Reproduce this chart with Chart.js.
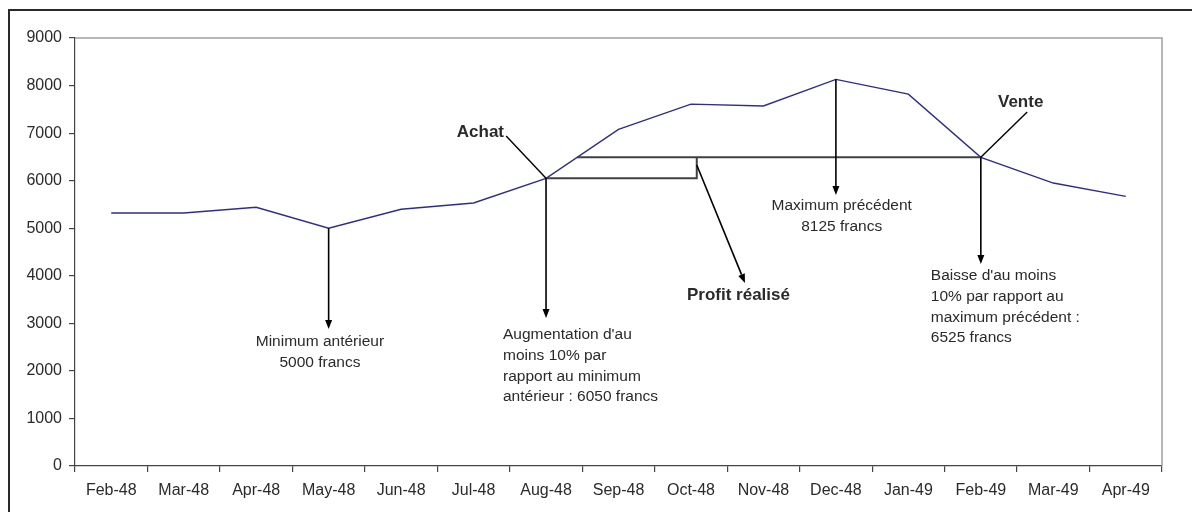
<!DOCTYPE html>
<html>
<head>
<meta charset="utf-8">
<script src="https://cdn.jsdelivr.net/npm/chart.js@4"></script>
<style>
html,body{margin:0;padding:0;background:#fff;}
#wrap{width:1192px;height:512px;position:relative;}
</style>
</head>
<body>
<div id="wrap"><canvas id="c" width="1192" height="512"></canvas></div>
<script>
// ---- Data ----
const categories = ['Feb-48','Mar-48','Apr-48','May-48','Jun-48','Jul-48','Aug-48','Sep-48','Oct-48','Nov-48','Dec-48','Jan-49','Feb-49','Mar-49','Apr-49'];
const prices = [5320, 5320, 5440, 5000, 5400, 5530, 6050, 7080, 7610, 7570, 8130, 7820, 6490, 5950, 5670];
const yTicks = [0, 1000, 2000, 3000, 4000, 5000, 6000, 7000, 8000, 9000];

// reference indices
const minIdx = 3, buyIdx = 6, maxIdx = 10, sellIdx = 12;
const profitBoxEndIdx = 8.08;   // right edge of the small profit box (category units)

// arrow segments: [fromIdx, fromValue, toIdx, toValue]
const downArrows = [
  [minIdx, prices[minIdx], minIdx, 2880],
  [buyIdx, prices[buyIdx], buyIdx, 3110],
  [maxIdx, prices[maxIdx], maxIdx, 5700],
  [sellIdx, prices[sellIdx], sellIdx, 4250]
];
const profitArrow = [profitBoxEndIdx, 6330, 8.745, 3850];
const leaderLines = [
  [5.45, 6940, buyIdx, prices[buyIdx]],
  [12.64, 7445, sellIdx, prices[sellIdx]]
];

// text labels: [idx, value, align, bold, lines]
const labels = [
  [5.42, 7023, 'right', true, ['Achat']],
  [12.55, 7653, 'center', true, ['Vente']],
  [7.945, 3595, 'left', true, ['Profit réalisé']],
  [2.88, 2607, 'center', false, ['Minimum antérieur', '5000 francs']],
  [5.406, 2754, 'left', false, ["Augmentation d'au", 'moins 10% par', 'rapport au minimum', 'antérieur : 6050 francs']],
  [10.08, 5467, 'center', false, ['Maximum précédent', '8125 francs']],
  [11.31, 3995, 'left', false, ["Baisse d'au moins", '10% par rapport au', 'maximum précédent :', '6525 francs']]
];

const FONT = '"Liberation Sans", Arial, sans-serif';
const TXT = '#2a2a2a';

const annot = {
  id: 'annot',
  beforeDraw(chart) {
    const ctx = chart.ctx;
    ctx.save();
    ctx.fillStyle = '#fff';
    ctx.fillRect(0, 0, chart.width, chart.height);
    ctx.strokeStyle = '#2a2a2a';
    ctx.lineWidth = 2;
    ctx.strokeRect(9, 10, 1400, 900);
    ctx.restore();
  },
  afterDatasetsDraw(chart) {
    const ctx = chart.ctx;
    const xs = chart.scales.x, ys = chart.scales.y;
    const ca = chart.chartArea;
    const px = i => {
      const f = Math.floor(i), r = i - f;
      const a = xs.getPixelForValue(f), b = xs.getPixelForValue(f + 1);
      return a + (b - a) * r;
    };
    const py = v => ys.getPixelForValue(v);
    ctx.save();
    // plot frame top & right
    ctx.strokeStyle = '#a0a0a0';
    ctx.lineWidth = 1.5;
    ctx.beginPath();
    ctx.moveTo(ca.left, ca.top);
    ctx.lineTo(ca.right, ca.top);
    ctx.lineTo(ca.right, ca.bottom);
    ctx.stroke();

    // profit box
    const buyV = prices[buyIdx], sellV = prices[sellIdx];
    const a = prices[buyIdx], b = prices[buyIdx + 1];
    const cross = buyIdx + (sellV - a) / (b - a);
    ctx.strokeStyle = '#404040';
    ctx.lineWidth = 2;
    ctx.beginPath();
    ctx.moveTo(px(buyIdx), py(buyV));
    ctx.lineTo(px(profitBoxEndIdx), py(buyV));
    ctx.lineTo(px(profitBoxEndIdx), py(sellV));
    ctx.moveTo(px(cross), py(sellV));
    ctx.lineTo(px(sellIdx), py(sellV));
    ctx.stroke();

    // arrows
    const arrow = (x1, y1, x2, y2) => {
      ctx.strokeStyle = '#000';
      ctx.fillStyle = '#000';
      ctx.lineWidth = 1.6;
      const ang = Math.atan2(y2 - y1, x2 - x1);
      const L = 9, W = 3.5;
      const bx = x2 - L * Math.cos(ang), by = y2 - L * Math.sin(ang);
      ctx.beginPath();
      ctx.moveTo(x1, y1);
      ctx.lineTo(bx, by);
      ctx.stroke();
      ctx.beginPath();
      ctx.moveTo(x2, y2);
      ctx.lineTo(bx + W * Math.sin(ang), by - W * Math.cos(ang));
      ctx.lineTo(bx - W * Math.sin(ang), by + W * Math.cos(ang));
      ctx.closePath();
      ctx.fill();
    };
    downArrows.forEach(s => arrow(px(s[0]), py(s[1]), px(s[2]), py(s[3])));
    arrow(px(profitArrow[0]), py(profitArrow[1]), px(profitArrow[2]), py(profitArrow[3]));

    // leader lines
    ctx.strokeStyle = '#000';
    ctx.lineWidth = 1.4;
    leaderLines.forEach(s => {
      ctx.beginPath();
      ctx.moveTo(px(s[0]), py(s[1]));
      ctx.lineTo(px(s[2]), py(s[3]));
      ctx.stroke();
    });

    // text
    ctx.fillStyle = TXT;
    ctx.textBaseline = 'middle';
    labels.forEach(l => {
      const [i, v, align, bold, lines] = l;
      ctx.font = (bold ? 'bold 17px ' : '15.5px ') + FONT;
      ctx.textAlign = align;
      const x = px(i);
      let y = py(v);
      lines.forEach(t => { ctx.fillText(t, x, y); y += 20.7; });
    });
    ctx.restore();
  }
};

new Chart(document.getElementById('c'), {
  type: 'line',
  data: {
    labels: categories,
    datasets: [{
      data: prices,
      borderColor: '#2e2e8a',
      borderWidth: 1.4,
      pointRadius: 0,
      tension: 0,
      fill: false
    }]
  },
  options: {
    responsive: false,
    animation: false,
    devicePixelRatio: 1,
    layout: { padding: { top: 38, right: 30, left: 0, bottom: 0 } },
    plugins: { legend: { display: false }, tooltip: { enabled: false } },
    scales: {
      x: {
        offset: true,
        grid: { offset: true, drawOnChartArea: false, drawTicks: true, tickLength: 6, color: '#444', lineWidth: 1.2 },
        border: { display: true, color: '#444', width: 1.2 },
        ticks: { color: TXT, font: { family: FONT, size: 16 }, padding: 9, maxRotation: 0, autoSkip: false },
        afterFit: s => { s.height = 46; }
      },
      y: {
        min: 0, max: 9000,
        afterBuildTicks: s => { s.ticks = yTicks.map(v => ({ value: v })); },
        grid: { drawOnChartArea: false, drawTicks: true, tickLength: 6, color: '#444', lineWidth: 1.2 },
        border: { display: true, color: '#444', width: 1.2 },
        ticks: { color: TXT, font: { family: FONT, size: 16 }, padding: 7, callback: v => String(v) },
        afterFit: s => { s.width = 75; }
      }
    }
  },
  plugins: [annot]
});
</script>
</body>
</html>
